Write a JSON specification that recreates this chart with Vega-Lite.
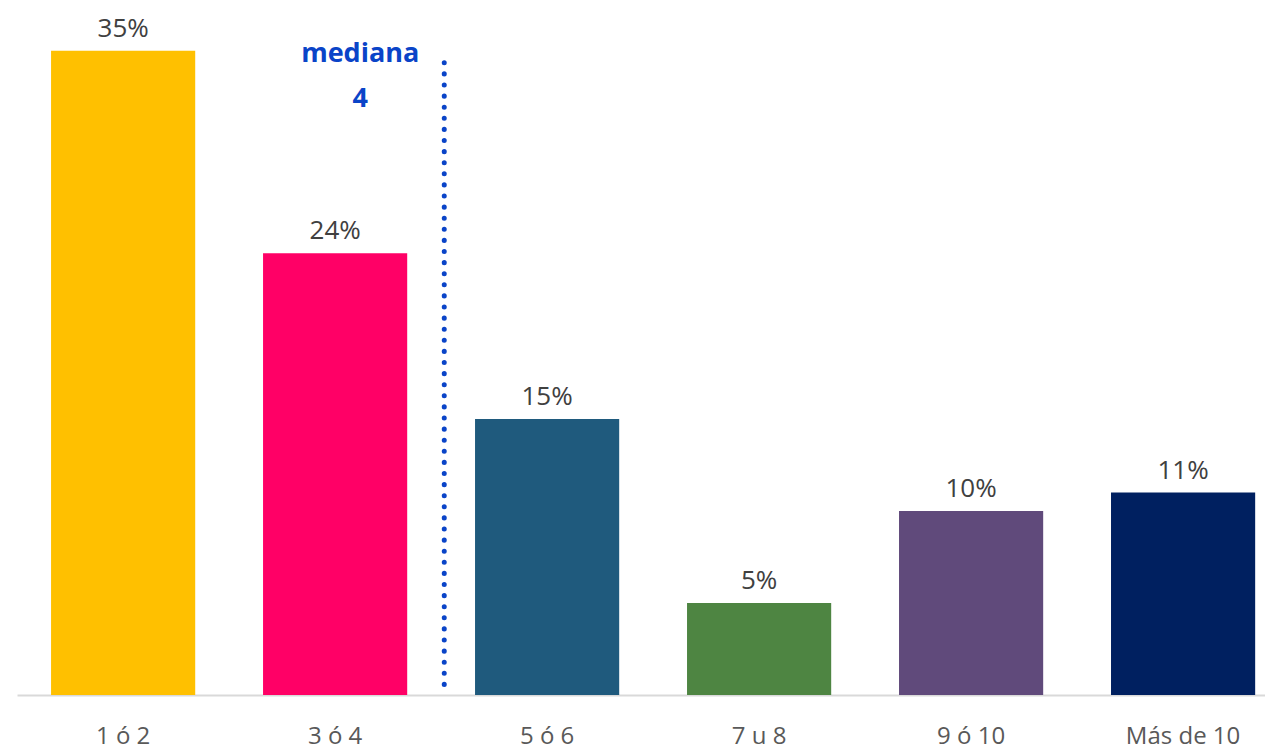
{
  "$schema": "https://vega.github.io/schema/vega-lite/v6.json",
  "autosize": "none",
  "width": 1248,
  "height": 681,
  "padding": {"left": 17, "top": 14, "right": 0, "bottom": 56},
  "background": "white",
  "config": {"view": {"stroke": null}, "font": "Open Sans"},
  "datasets": {
    "bars": [
      {"cat": "1 ó 2", "share": 0.35},
      {"cat": "3 ó 4", "share": 0.24},
      {"cat": "5 ó 6", "share": 0.15},
      {"cat": "7 u 8", "share": 0.05},
      {"cat": "9 ó 10", "share": 0.10},
      {"cat": "Más de 10", "share": 0.11}
    ],
    "median": [
      {"cat": "3 ó 4", "label": ["mediana", "4"]}
    ]
  },
  "encoding": {
    "x": {
      "field": "cat",
      "type": "nominal",
      "sort": null,
      "scale": {"paddingInner": 0.32, "paddingOuter": 0.1035, "align": 0.776},
      "axis": {
        "title": null,
        "labelAngle": 0,
        "ticks": false,
        "tickSize": 0,
        "labelPadding": 48,
        "labelBaseline": "alphabetic",
        "labelFontSize": 24,
        "labelColor": "#595959",
        "labelFont": "Open Sans",
        "domainColor": "#d9d9d9",
        "domainWidth": 2,
        "grid": false
      }
    }
  },
  "layer": [
    {
      "data": {"name": "bars"},
      "mark": {"type": "bar"},
      "encoding": {
        "y": {"field": "share", "type": "quantitative", "scale": {"domain": [0, 0.37], "nice": false}, "axis": null},
        "color": {
          "field": "cat",
          "type": "nominal",
          "sort": null,
          "scale": {
            "domain": ["1 ó 2", "3 ó 4", "5 ó 6", "7 u 8", "9 ó 10", "Más de 10"],
            "range": ["#FFC000", "#FF0066", "#1F5A7D", "#4E8542", "#604A7B", "#002060"]
          },
          "legend": null
        }
      }
    },
    {
      "data": {"name": "bars"},
      "mark": {"type": "text", "baseline": "alphabetic", "dy": -14, "fontSize": 26, "color": "#404040", "font": "Open Sans"},
      "encoding": {
        "y": {"field": "share", "type": "quantitative"},
        "text": {"field": "share", "type": "quantitative", "format": ".0%"}
      }
    },
    {
      "data": {"name": "median"},
      "mark": {"type": "rule", "color": "#0A44C8", "strokeWidth": 5, "strokeCap": "round", "strokeDash": [0.1, 11]},
      "encoding": {
        "x": {"field": "cat", "type": "nominal", "bandPosition": 1.257},
        "y": {"datum": 0.3435, "type": "quantitative"},
        "y2": {"datum": 0.003}
      }
    },
    {
      "data": {"name": "median"},
      "mark": {"type": "text", "baseline": "alphabetic", "align": "center", "fontSize": 27, "fontWeight": "bold", "color": "#0A44C8", "lineHeight": 45, "font": "Open Sans"},
      "encoding": {
        "x": {"field": "cat", "type": "nominal", "bandPosition": 0.674},
        "y": {"datum": 0.344, "type": "quantitative"},
        "text": {"field": "label"}
      }
    }
  ]
}
